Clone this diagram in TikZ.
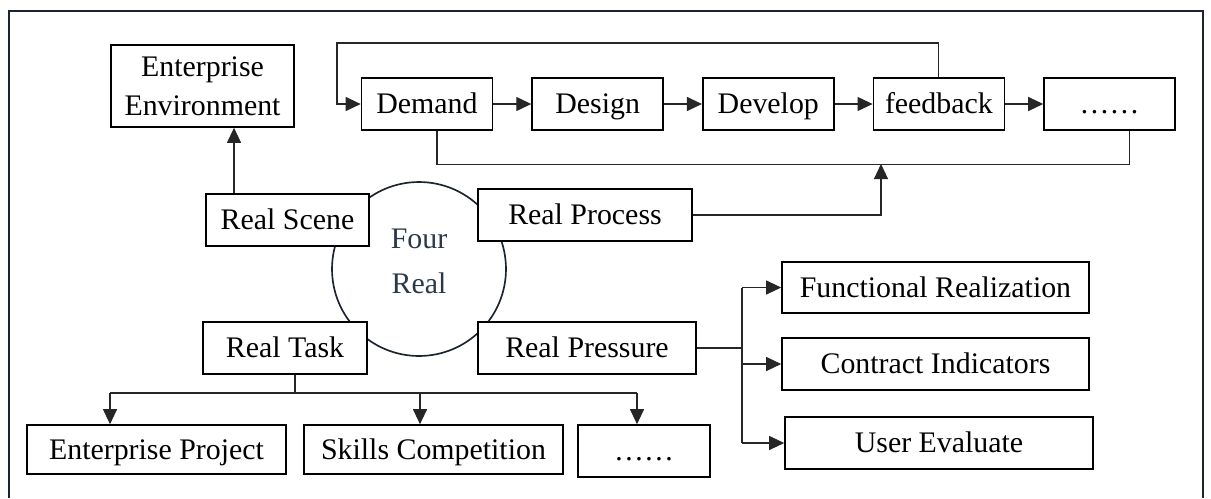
\documentclass[tikz,border=0pt]{standalone}
\usepackage{fontspec}
\setmainfont{Liberation Serif}
\usepackage{tikz}
\usetikzlibrary{arrows.meta}
\usetikzlibrary{positioning, calc}
\definecolor{navy}{RGB}{28,36,48}
\definecolor{slate}{RGB}{44,56,74}
\tikzset{
    block/.style = {draw=black, fill=white, line width=0.95pt, inner sep=0pt,
        text centered, font=\fontsize{17}{22}\selectfont},
    leaf/.style = {block, minimum height=1.04cm, text height=11.3pt, text depth=0pt},
    flow/.style = {leaf, minimum width=2.62cm},
    link/.style = {line width=0.6pt, draw=black!85},
}

\begin{document}
\begin{tikzpicture}[x=0.02cm, y=-0.02cm, >={Triangle[length=0.3cm,width=0.28cm]}]
        \useasboundingbox (0,0) rectangle (1211,498);
        % frame, open at the bottom
        \draw[navy, line width=1.1pt] (9,498) -- (9,11) -- (1203,11) -- (1203,498);
        % the ring in the middle
        \node [circle, draw=navy, line width=0.95pt, minimum size=3.48cm, inner sep=0pt] (ring) at (419,269) {};
        \node [text=slate, align=center, font=\fontsize{17}{25.6}\selectfont] (fourreal) at (419,261.5) {Four\\Real};
        % top row
        \node [block, minimum width=3.66cm, minimum height=1.64cm, align=center,
            font=\fontsize{17}{22.2}\selectfont] (env) at (202.5,86) {Enterprise\\Environment};
        \node [flow] (demand) at (427,104) {Demand};
        \node [flow, right=0.76cm of demand] (design) {Design};
        \node [flow, right=0.76cm of design] (develop) {Develop};
        \node [flow, right=0.76cm of develop] (feedback) {feedback};
        \node [flow, right=0.76cm of feedback] (more) {……};
        % the four real
        \node [leaf, minimum width=3.26cm] (scene) at (287.5,220) {Real Scene};
        \node [leaf, minimum width=4.28cm] (process) at (585,215) {Real Process};
        \node [leaf, minimum width=3.28cm] (task) at (285,348) {Real Task};
        \node [leaf, minimum width=4.36cm] (pressure) at (587,348) {Real Pressure};
        % bottom row
        \node [leaf, minimum width=5.18cm, minimum height=0.98cm] (project) at (156.5,449.5) {Enterprise Project};
        \node [leaf, minimum width=5.18cm, minimum height=0.98cm] (skills) at (433.5,449.5) {Skills Competition};
        \node [leaf, minimum width=2.64cm] (others) at (644,451) {……};
        % right column
        \node [leaf, minimum width=6.14cm, minimum height=1.02cm] (func) at (935.5,287.5) {Functional Realization};
        \node [leaf, minimum width=6.14cm] (contract) at (935.5,364) {Contract Indicators};
        \node [leaf, minimum width=6.16cm] (user) at (939,443) {User Evaluate};

        % connectors
        \draw[link, ->] ([xshift=-1.07cm]scene.north) -- ([xshift=-1.07cm]scene.north |- env.south);
        \coordinate (loop) at (337,43);
        \draw[link, ->] (feedback.north) |- (loop) |- (demand.west);
        \foreach \a/\b in {demand/design, design/develop, develop/feedback, feedback/more}
            \draw[link, ->] (\a) -- (\b);
        \draw[link] ([xshift=0.2cm]demand.south) -- ++(0,34) -| ([xshift=0.4cm]more.south);
        \coordinate (join) at (881,164);
        \draw[link, ->] (process.east) -| (join);

        \coordinate (split) at (0,393);
        \draw[link] ([xshift=0.2cm]task.south) -- ([xshift=0.2cm]task.south |- split);
        \draw[link] ([xshift=-0.93cm]project.north |- split) -- ([xshift=-0.14cm]others.north |- split);
        \foreach \n/\s in {project/-0.93, skills/-0.27, others/-0.14}
            \draw[link, ->] ([xshift=\s cm]\n.north |- split) -- ([xshift=\s cm]\n.north);

        \coordinate (fork) at (742,0);
        \draw[link] (pressure.east) -- (pressure.east -| fork);
        \draw[link] (func.west -| fork) -- (user.west -| fork);
        \foreach \n in {func, contract, user}
            \draw[link, ->] (\n.west -| fork) -- (\n.west);
\end{tikzpicture}
\end{document}
